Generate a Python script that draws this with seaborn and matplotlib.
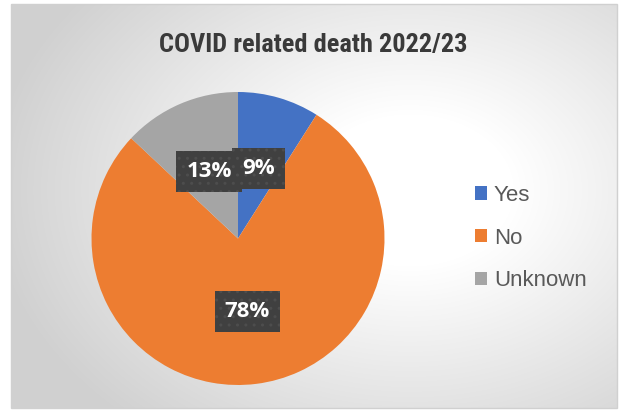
import numpy as np
import matplotlib
matplotlib.use("Agg")
import matplotlib.pyplot as plt
from matplotlib.colors import LinearSegmentedColormap
from matplotlib.patches import Rectangle
from matplotlib import font_manager
import seaborn as sns

# Data
categories = ["Yes", "No", "Unknown"]
shares = [9, 78, 13]
slice_colors = ["#4472C4", "#ED7D31", "#A5A5A5"]
title = "COVID related death 2022/23"

sns.set_theme(style="white")
palette = sns.color_palette(slice_colors)

W, H = 621, 415
fig = plt.figure(figsize=(W / 100, H / 100), dpi=100)
fig.patch.set_facecolor("white")

# Chart area with a soft radial gradient
x0, y0, x1, y1 = 11, 4, 617, 408
bg = fig.add_axes([x0 / W, 1 - y1 / H, (x1 - x0) / W, (y1 - y0) / H])
xx, yy = np.meshgrid(np.arange(x0, x1), np.arange(y0, y1))
cx, cy = 410, 190
r = np.sqrt(((xx - cx) / 340) ** 2 + ((yy - cy) / 250) ** 2)
t = np.clip((r - 0.3) / 0.95, 0, 1)
cmap = LinearSegmentedColormap.from_list("bg", ["#ffffff", "#d0d0d0"])
bg.imshow(t, cmap=cmap, vmin=0, vmax=1, aspect="auto", interpolation="bilinear")
bg.set_axis_off()
fig.add_artist(Rectangle((x0 / W, 1 - y1 / H), (x1 - x0) / W, (y1 - y0) / H,
                         transform=fig.transFigure, fill=False,
                         edgecolor="#d0d0d0", linewidth=1.0))

# Pie
cxp, cyp, rad = 238, 238.5, 146.5
ax = fig.add_axes([(cxp - rad) / W, 1 - (cyp + rad) / H, 2 * rad / W, 2 * rad / H])
wedges, _, autotexts = ax.pie(
    shares, colors=palette, startangle=90, counterclock=False,
    autopct="%.0f%%", pctdistance=0.5, radius=1.0,
    wedgeprops=dict(linewidth=0),
    textprops=dict(color="white", fontsize=16, fontweight="bold",
                   family="Open Sans"),
)
for txt in autotexts:
    txt.set_bbox(dict(boxstyle="square,pad=0.45", facecolor="#404040",
                      edgecolor="#4d4d4d", hatch="..", linewidth=0))
ax.set_xlim(-1, 1)
ax.set_ylim(-1, 1)
ax.set_aspect("auto")
ax.set_axis_off()

# Title
names = {f.name for f in font_manager.fontManager.ttflist}
title_family = "Roboto Condensed" if "Roboto Condensed" in names else "DejaVu Sans"
fig.text(313 / W, 1 - 45 / H, title, ha="center", va="center",
         fontsize=19, fontweight="bold", color="#3a3a3a",
         family=title_family, fontstretch="condensed")

# Legend
fig.legend(wedges, categories, loc="center left",
           bbox_to_anchor=(475 / W, 1 - 238 / H), frameon=False,
           labelcolor="#595959", labelspacing=0.98,
           handlelength=0.55, handleheight=0.55, handletextpad=0.3,
           borderaxespad=0, borderpad=0,
           prop=dict(family="Liberation Sans", size=16))

fig.savefig("out.png", dpi=100)
